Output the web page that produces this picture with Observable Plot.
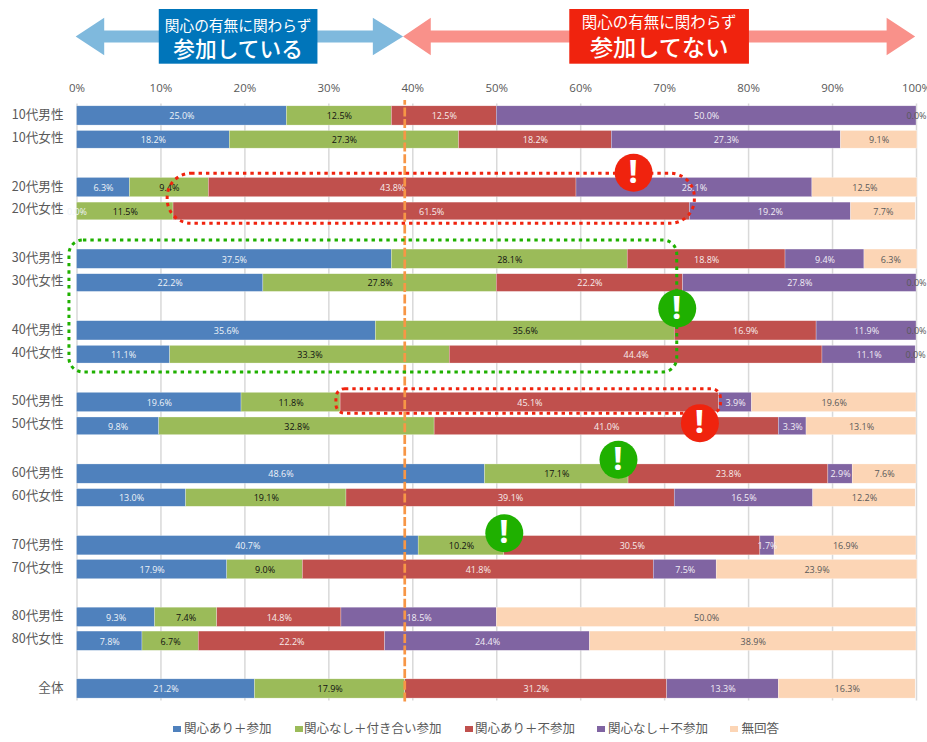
<!DOCTYPE html>
<html lang="ja">
<head>
<meta charset="utf-8">
<script src="https://cdn.jsdelivr.net/npm/d3@7"></script>
<script src="https://cdn.jsdelivr.net/npm/@observablehq/plot@0.6"></script>
<style>
html,body{margin:0;padding:0;background:#fff;}
#wrap{position:relative;width:927px;height:742px;overflow:hidden;}
#legend span{position:absolute;top:718px;font:12.5px/20px "Noto Sans CJK JP",sans-serif;color:#595959;white-space:nowrap;}
#legend i{position:absolute;top:726px;width:8px;height:6px;}
</style>
</head>
<body>
<div id="wrap"><div id="chart"></div><div id="legend"></div></div>
<script>
const seriesNames = ["関心あり＋参加","関心なし＋付き合い参加","関心あり＋不参加","関心なし＋不参加","無回答"];
const seriesColors = ["#4F81BD","#9BBB59","#C0504D","#8064A2","#FCD5B5"];
const labelColors = ["#EEF3F8","#111111","#F7ECEB","#F1EDF5","#595959"];
const legendSwatchX = [173,295,465,597,730];
const legendTextX = [184,304,475,608,741.5];

const rows = ["10代男性","10代女性","_a","20代男性","20代女性","_b","30代男性","30代女性","_c","40代男性","40代女性","_d","50代男性","50代女性","_e","60代男性","60代女性","_f","70代男性","70代女性","_g","80代男性","80代女性","_h","全体"];
const tallRows = ["70代女性","80代女性","全体"];

const interestedJoin   = [25.0,18.2,6.3,0.0,37.5,22.2,35.6,11.1,19.6,9.8,48.6,13.0,40.7,17.9,9.3,7.8,21.2];
const uninterestedJoin = [12.5,27.3,9.4,11.5,28.1,27.8,35.6,33.3,11.8,32.8,17.1,19.1,10.2,9.0,7.4,6.7,17.9];
const interestedNot    = [12.5,18.2,43.8,61.5,18.8,22.2,16.9,44.4,45.1,41.0,23.8,39.1,30.5,41.8,14.8,22.2,31.2];
const uninterestedNot  = [50.0,27.3,28.1,19.2,9.4,27.8,11.9,11.1,3.9,3.3,2.9,16.5,1.7,7.5,18.5,24.4,13.3];
const noAnswer         = [0.0,9.1,12.5,7.7,6.3,0.0,0.0,0.0,19.6,13.1,7.6,12.2,16.9,23.9,50.0,38.9,16.3];
const seriesValues = [interestedJoin,uninterestedJoin,interestedNot,uninterestedNot,noAnswer];

const xTicks = [0,10,20,30,40,50,60,70,80,90,100];

const dataRows = rows.filter(r => !r.startsWith("_"));
const table = seriesNames.flatMap((s,si) => dataRows.map((r,ri) => ({row:r, series:s, si, value:seriesValues[si][ri]})));
const totalJoin = interestedJoin[16] + uninterestedJoin[16];

const FONT = '"Open Sans",sans-serif';
const JP = '"Noto Sans CJK JP",sans-serif';
const isMale = d => d.row.endsWith("男性");
const isTall = d => isMale(d) || tallRows.includes(d.row);

const stackOpts = {x:"value", y:"row", z:"series", order:null};
const bars = (filter, inset) => Plot.barX(table, Plot.stackX({...stackOpts, filter, fill:d=>seriesColors[d.si], stroke:"#fff", strokeWidth:0.5, strokeOpacity:0.55, insetTop:inset, insetBottom:inset}));

const alerts = [
  {x:66.3, row:"20代男性", dy:-14.8, c:"#F0230E"},
  {x:71.5, row:"30代女性", dy:25.4,  c:"#1FB000"},
  {x:74.2, row:"50代女性", dy:-3.2,  c:"#F0230E"},
  {x:64.5, row:"60代男性", dy:-14.3, c:"#1FB000"},
  {x:50.9, row:"70代男性", dy:-12.5, c:"#1FB000"}
];
const alertMarks = alerts.flatMap(a => [
  Plot.dot([a],{x:"x", y:"row", dy:a.dy, r:19, fill:"c", stroke:"none"}),
  Plot.text([a],{x:"x", y:"row", dy:a.dy-0.5, dx:-0.5, text:()=>"!", fill:"#fff", fontSize:33, fontWeight:"bold", fontFamily:'"Noto Sans",sans-serif'})
]);

const outlines = [
  {x1:10.8, x2:73.6, top:"20代男性", dt:-13.8, bottom:"20代女性", db:12.3, r:24, c:"#F0230E"},
  {x1:-0.9, x2:71.5, top:"30代男性", dt:-18.75, bottom:"40代女性", db:17.75, r:14, c:"#1FB000"},
  {x1:30.9, x2:76.7, top:"50代男性", dt:-13.3, bottom:"50代男性", db:11.3, r:9, c:"#F0230E"}
];

function outlineMark(index, scales){
  const g = d3.create("svg:g");
  const yc = r => scales.y(r) + scales.y.bandwidth()/2;
  for (const o of outlines){
    const x = scales.x(o.x1), w = scales.x(o.x2) - x, y = yc(o.top)+o.dt, h = yc(o.bottom)+o.db-y;
    g.append("rect").attr("x",x).attr("y",y).attr("width",w).attr("height",h).attr("rx",o.r).attr("ry",o.r)
      .attr("fill","none").attr("stroke",o.c).attr("stroke-width",3).attr("stroke-dasharray","3.4 4");
  }
  return g.node();
}

const header = [
  {tip1:-0.1, base1:3.3, base2:35.3, tip2:38.9, fill:"#7FB9DD", box:[9.8,28.7], boxFill:"#0075BA",
   line1:"関心の有無に関わらず", s1:14.7, y1:24, line2:"参加している", s2:21.7, y2:47},
  {tip1:38.9, base1:42.2, base2:96.5, tip2:99.9, fill:"#F9918A", box:[58.7,80.1], boxFill:"#F0230E",
   line1:"関心の有無に関わらず", s1:15.5, y1:21, line2:"参加してない", s2:23.2, y2:46}
];

function headerMark(index, scales){
  const g = d3.create("svg:g");
  for (const h of header){
    const [a,b,c,d] = [h.tip1,h.base1,h.base2,h.tip2].map(scales.x);
    const cy=36.5, hh=18.7, sh=6;
    g.append("path").attr("fill",h.fill)
      .attr("d",`M${a},${cy}L${b},${cy-hh}V${cy-sh}H${c}V${cy-hh}L${d},${cy}L${c},${cy+hh}V${cy+sh}H${b}V${cy+hh}Z`);
    const bx=scales.x(h.box[0]), bw=scales.x(h.box[1])-bx;
    g.append("rect").attr("x",bx).attr("y",9).attr("width",bw).attr("height",54.7).attr("fill",h.boxFill);
    const tx = bx+bw/2;
    for (const [t,s,y,w] of [[h.line1,h.s1,h.y1,400],[h.line2,h.s2,h.y2,500]]){
      g.append("text").attr("x",tx).attr("y",y).attr("text-anchor","middle").attr("dominant-baseline","central")
        .attr("font-family",JP).attr("font-size",s).attr("font-weight",w).attr("fill","#fff").text(t);
    }
  }
  return g.node();
}

const plot = Plot.plot({
  width:927, height:712,
  marginLeft:76.5, marginRight:11, marginTop:103.5, marginBottom:11.6,
  style:{fontFamily:FONT, background:"#fff"},
  x:{domain:[0,100], axis:null},
  y:{domain:rows, padding:0, round:false, axis:null},
  marks:[
    Plot.ruleX(xTicks,{stroke:"#D9D9D9", strokeWidth:1.5}),
    Plot.axisX({anchor:"top", ticks:xTicks, tickSize:0, tickPadding:12, tickFormat:d=>d+"%", label:null, fontSize:11.5, fill:"#595959", fontFamily:FONT}),
    bars(isTall, 2.3),
    bars(d=>!isTall(d), 3.1),
    Plot.text(table, Plot.stackX({...stackOpts, text:d=>d.value.toFixed(1)+"%", fill:d=>labelColors[d.si], fontSize:9, fontFamily:FONT, dy:0.5})),
    Plot.text(dataRows,{x:()=>0, y:d=>d, text:d=>d, textAnchor:"end", dx:-13.5, dy:-1, fontSize:12.6, fontFamily:JP, fill:"#595959", filter:d=>d.endsWith("男性")||d==="全体"}),
    Plot.text(dataRows,{x:()=>0, y:d=>d, text:d=>d, textAnchor:"end", dx:-13.5, dy:-2, fontSize:12.6, fontFamily:JP, fill:"#595959", filter:d=>d.endsWith("女性")}),
    Plot.ruleX([totalJoin],{dx:-0.5, stroke:"#F79646", strokeWidth:2.7, strokeDasharray:"9 2.7", strokeDashoffset:4.3, insetTop:-3.5, insetBottom:-1.5}),
    outlineMark,
    ...alertMarks,
    headerMark
  ]
});
document.getElementById("chart").appendChild(plot);

const legend = document.getElementById("legend");
seriesNames.forEach((name,i) => {
  const sw = document.createElement("i");
  sw.style.left = legendSwatchX[i]+"px";
  sw.style.background = seriesColors[i];
  const t = document.createElement("span");
  t.style.left = legendTextX[i]+"px";
  t.textContent = name;
  legend.append(sw,t);
});
</script>
</body>
</html>
